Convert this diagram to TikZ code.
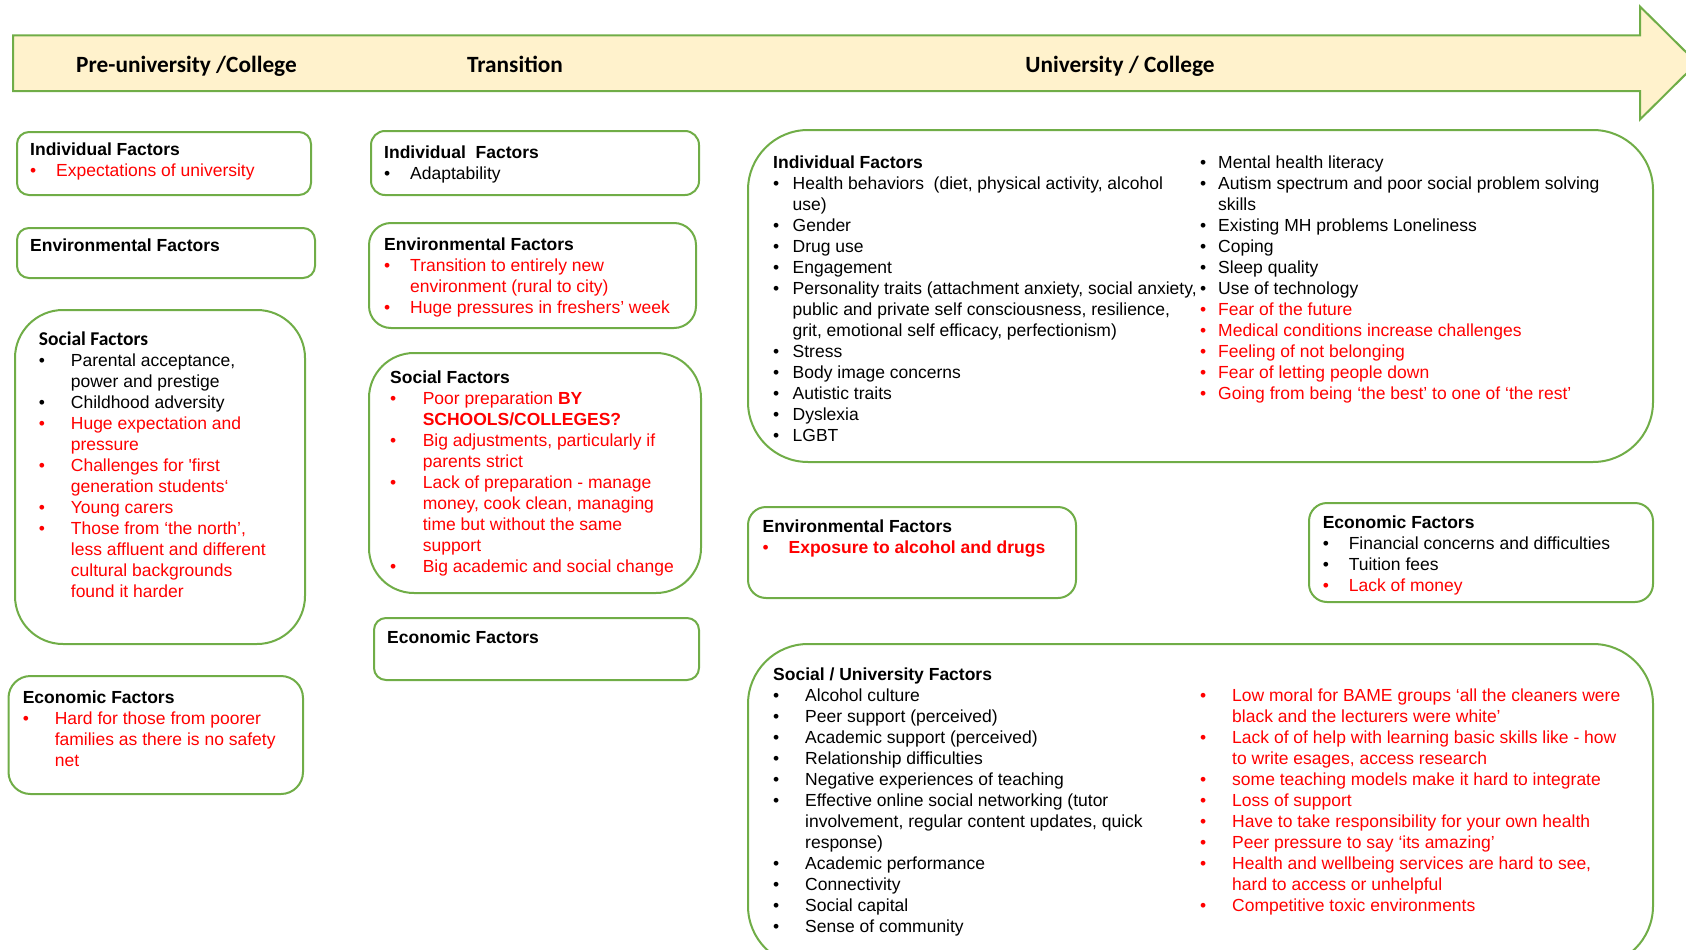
\documentclass[tikz,border=0pt]{standalone}
\usepackage{fontspec}
\setmainfont{Liberation Sans}
\newfontfamily\calfont{Carlito}
\definecolor{grn}{HTML}{70AD47}
\definecolor{cream}{HTML}{FFF2CC}
\definecolor{ured}{HTML}{FF0000}
\newlength\bind
\newcommand\bu{\makebox[\bind][l]{•}}
\newcommand\co{\hspace*{\bind}}
% #1 width, #2 bullet-to-text gap, #3 lines
\newcommand\txt[3]{\parbox[t]{#1}{\setlength\bind{#2}\setlength\parskip{0pt}\fontsize{17.5}{21}\selectfont\raggedright\leavevmode #3}}
\tikzset{
  factorbox/.style={draw=grn, line width=2pt, fill=white, rounded corners=#1, inner sep=0pt, anchor=north west},
  body/.style={anchor=base west, inner sep=0pt},
  phase/.style={anchor=base, inner sep=0pt, font=\calfont\bfseries\fontsize{23.3}{28}\selectfont}
}
\begin{document}
\begin{tikzpicture}[x=1pt,y=-1pt]
\useasboundingbox (0,0) rectangle (1686,950);
\clip (0,0) rectangle (1686,950);

% timeline arrow
\draw[draw=grn, fill=cream, line width=2pt, line join=miter]
  (13,35.5) -- (1640,35.5) -- (1640,6.5) -- (1697,63) -- (1640,119.5) -- (1640,91) -- (13,91) -- cycle;
\node[phase] (phPre) at (186.5,72) {Pre-university /College};
\node[phase] (phTr) at (515,72) {Transition};
\node[phase] (phUni) at (1120,72) {University / College};

% ---------- pre-university column ----------
\node[factorbox=12pt, minimum width=294pt, minimum height=63pt] (preInd) at (16,131) {};
\node[factorbox=12pt, minimum width=298pt, minimum height=50pt] (preEnv) at (16,227) {};
\node[factorbox=48pt, minimum width=290pt, minimum height=334pt] (preSoc) at (14,309) {};
\node[factorbox=22pt, minimum width=294.5pt, minimum height=118pt] (preEco) at (7.5,675) {};

\node[body] (preIndT) at (30,155.5) {\txt{270pt}{26pt}{%
  \textbf{Individual Factors}\\
  \color{ured}\bu Expectations of university}};
\node[body] (preEnvT) at (30,251.5) {\txt{270pt}{26pt}{\textbf{Environmental Factors}}};
\node[body] (preSocT) at (38.7,345) {\txt{262pt}{32pt}{%
  {\calfont\bfseries\fontsize{19.5}{21}\selectfont Social Factors}\\[0.7pt]
  \bu Parental acceptance,\\
  \co power and prestige\\
  \bu Childhood adversity\\
  \color{ured}\bu Huge expectation and\\
  \co pressure\\
  \bu Challenges for \textquotesingle first\\
  \co generation students‘\\
  \bu Young carers\\
  \bu Those from ‘the north’,\\
  \co less affluent and different\\
  \co cultural backgrounds\\
  \co found it harder}};
\node[body] (preEcoT) at (22.6,703.3) {\txt{275pt}{32pt}{%
  \textbf{Economic Factors}\\
  \color{ured}\bu Hard for those from poorer\\
  \co families as there is no safety\\
  \co net}};

% ---------- transition column ----------
\node[factorbox=14pt, minimum width=328pt, minimum height=64pt] (trInd) at (370,130) {};
\node[factorbox=22pt, minimum width=327pt, minimum height=105pt] (trEnv) at (368,222) {};
\node[factorbox=45pt, minimum width=332pt, minimum height=240pt] (trSoc) at (368,352) {};
\node[factorbox=12pt, minimum width=325pt, minimum height=62pt] (trEco) at (373,617) {};

\node[body] (trIndT) at (384,158) {\txt{300pt}{26pt}{%
  \textbf{Individual\ \ Factors}\\
  \bu Adaptability}};
\node[body] (trEnvT) at (384,250) {\txt{300pt}{26pt}{%
  \textbf{Environmental Factors}\\
  \color{ured}\bu Transition to entirely new\\
  \co environment (rural to city)\\
  \bu Huge pressures in freshers’ week}};
\node[body] (trSocT) at (390,383.3) {\txt{305pt}{32.6pt}{%
  \textbf{Social Factors}\\
  \color{ured}\bu Poor preparation \textbf{BY}\\
  \co\textbf{SCHOOLS/COLLEGES?}\\
  \bu Big adjustments, particularly if\\
  \co parents strict\\
  \bu Lack of preparation - manage\\
  \co money, cook clean, managing\\
  \co time but without the same\\
  \co support\\
  \bu Big academic and social change}};
\node[body] (trEcoT) at (387,643.3) {\txt{300pt}{26pt}{\textbf{Economic Factors}}};

% ---------- university column ----------
\node[factorbox=60pt, minimum width=905pt, minimum height=332pt] (uInd) at (747,129) {};
\node[factorbox=18pt, minimum width=328pt, minimum height=91pt] (uEnv) at (747,506) {};
\node[factorbox=18pt, minimum width=344pt, minimum height=99pt] (uEco) at (1308,502) {};
\node[factorbox=60pt, minimum width=905pt, minimum height=322pt] (uSoc) at (747,643) {};

\node[body] (uIndL) at (773,168) {\txt{440pt}{19.5pt}{%
  \textbf{Individual Factors}\\
  \bu Health behaviors\ \ (diet, physical activity, alcohol\\
  \co use)\\
  \bu Gender\\
  \bu Drug use\\
  \bu Engagement\\
  \bu Personality traits (attachment anxiety, social anxiety,\\
  \co public and private self consciousness, resilience,\\
  \co grit, emotional self efficacy, perfectionism)\\
  \bu Stress\\
  \bu Body image concerns\\
  \bu Autistic traits\\
  \bu Dyslexia\\
  \bu LGBT}};
\node[body] (uIndR) at (1200,168) {\txt{440pt}{18pt}{%
  \bu Mental health literacy\\
  \bu Autism spectrum and poor social problem solving\\
  \co skills\\
  \bu Existing MH problems Loneliness\\
  \bu Coping\\
  \bu Sleep quality\\
  \bu Use of technology\\
  \color{ured}\bu Fear of the future\\
  \bu Medical conditions increase challenges\\
  \bu Feeling of not belonging\\
  \bu Fear of letting people down\\
  \bu Going from being ‘the best’ to one of ‘the rest’}};

\node[body] (uEnvT) at (762.4,532.3) {\txt{300pt}{26pt}{%
  \textbf{Environmental Factors}\\
  \color{ured}\bu\textbf{Exposure to alcohol and drugs}}};
\node[body] (uEcoT) at (1322.6,528.3) {\txt{320pt}{26pt}{%
  \textbf{Economic Factors}\\
  \bu Financial concerns and difficulties\\
  \bu Tuition fees\\
  \color{ured}\bu Lack of money}};

\node[body] (uSocL) at (773,680) {\txt{420pt}{32pt}{%
  \textbf{Social / University Factors}\\
  \bu Alcohol culture\\
  \bu Peer support (perceived)\\
  \bu Academic support (perceived)\\
  \bu Relationship difficulties\\
  \bu Negative experiences of teaching\\
  \bu Effective online social networking (tutor\\
  \co involvement, regular content updates, quick\\
  \co response)\\
  \bu Academic performance\\
  \bu Connectivity\\
  \bu Social capital\\
  \bu Sense of community}};
\node[body] (uSocR) at (1200,701) {\txt{440pt}{32pt}{%
  \color{ured}\bu Low moral for BAME groups ‘all the cleaners were\\
  \co black and the lecturers were white’\\
  \bu Lack of of help with learning basic skills like - how\\
  \co to write esages, access research\\
  \bu some teaching models make it hard to integrate\\
  \bu Loss of support\\
  \bu Have to take responsibility for your own health\\
  \bu Peer pressure to say ‘its amazing’\\
  \bu Health and wellbeing services are hard to see,\\
  \co hard to access or unhelpful\\
  \bu Competitive toxic environments}};
\end{tikzpicture}
\end{document}
